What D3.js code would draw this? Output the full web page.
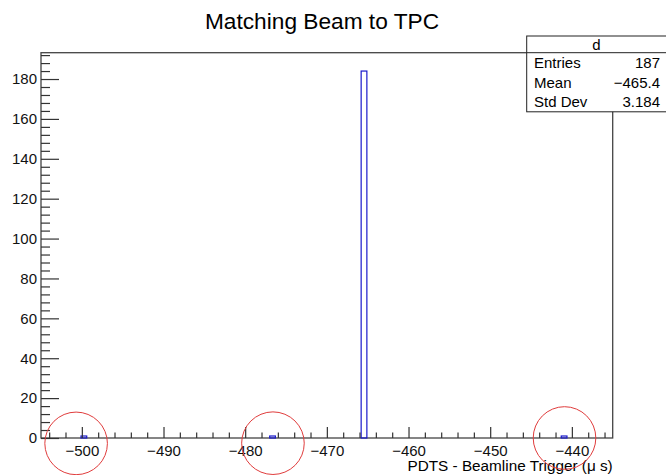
<!DOCTYPE html>
<html>
<head>
<meta charset="utf-8">
<script src="https://cdn.jsdelivr.net/npm/d3@7"></script>
<style>
  body { margin: 0; background: #fff; }
  text { font-family: "Liberation Sans", Arial, Helvetica, sans-serif; }
</style>
</head>
<body>
<div id="chart"></div>
<script>
// histogram "d" : only non-empty bins listed, bin width 0.7 us
const binWidth = 0.7;
const binStarts = [-500.1, -477.0, -465.8, -441.3];
const binCounts = [1, 1, 184, 1];
const xRange = [-505, -435];
const xMajor = [-500, -490, -480, -470, -460, -450, -440];
const yMajor = [0, 20, 40, 60, 80, 100, 120, 140, 160, 180];
const statNames = ["Entries", "Mean", "Std Dev"];
const statValues = ["187", "\u2212465.4", "3.184"];
// red hand-drawn circles (data coords)
const circleX = [-500.7, -476.6, -440.9];
const circleY = [-2.7, -2.6, 0];

let width = 666, height = 475,
    margin = ({top: 52.7, right: 53.3, bottom: 37, left: 41});

let data = binStarts.map((s, i) => ({x0: s, x1: s + binWidth, n: binCounts[i]}));

let x = d3.scaleLinear()
    .domain(xRange)
    .range([margin.left, width - margin.right]);
let y = d3.scaleLinear()
    .domain([0, d3.max(binCounts) * 1.05])
    .range([height - margin.bottom, margin.top]);

const svg = d3.select("#chart").append("svg")
    .attr("width", width).attr("height", height)
    .attr("viewBox", [0, 0, width, height]);

// title
svg.append("text")
    .attr("x", 322).attr("y", 28.5)
    .attr("text-anchor", "middle")
    .attr("font-size", 22.7)
    .text("Matching Beam to TPC");

// frame
svg.append("rect")
    .attr("x", x.range()[0]).attr("y", y.range()[1])
    .attr("width", x.range()[1] - x.range()[0])
    .attr("height", y.range()[0] - y.range()[1])
    .attr("fill", "none").attr("stroke", "#444").attr("stroke-width", 1.3);

// histogram bars (outline)
svg.append("g")
    .selectAll("rect")
    .data(data)
    .join("rect")
      .attr("x", d => x(d.x0))
      .attr("y", d => y(d.n))
      .attr("width", d => x(d.x1) - x(d.x0))
      .attr("height", d => y(0) - y(d.n))
      .attr("fill", "none")
      .attr("stroke", "#1a1acc")
      .attr("stroke-width", 1.2);

// y axis
let yAxis = g => g
    .attr("transform", `translate(${margin.left},0)`)
    .call(d3.axisLeft(y).tickValues(yMajor).tickSize(-18).tickPadding(4))
    .call(g => g.select(".domain").remove())
    .call(g => g.selectAll("text").attr("font-size", 15).attr("fill", "#111"))
    .call(g => g.selectAll("line").attr("stroke", "#333").attr("stroke-width", 1.2));
let yMinor = g => g
    .attr("transform", `translate(${margin.left},0)`)
    .call(d3.axisLeft(y).tickValues(d3.range(0, 193, 4).filter(v => v % 20)).tickSize(-9).tickFormat(""))
    .call(g => g.select(".domain").remove())
    .call(g => g.selectAll("line").attr("stroke", "#333").attr("stroke-width", 1.2));

// x axis
let xAxis = g => g
    .attr("transform", `translate(0,${height - margin.bottom})`)
    .call(d3.axisBottom(x).tickValues(xMajor).tickSize(-11).tickPadding(7)
        .tickFormat(v => String(v).replace("-", "\u2212")))
    .call(g => g.select(".domain").remove())
    .call(g => g.selectAll("text").attr("font-size", 15).attr("fill", "#111"))
    .call(g => g.selectAll("line").attr("stroke", "#333").attr("stroke-width", 1.2));
let xMinor = g => g
    .attr("transform", `translate(0,${height - margin.bottom})`)
    .call(d3.axisBottom(x).tickValues(d3.range(-504, -435, 2).filter(v => v % 10)).tickSize(-5.5).tickFormat(""))
    .call(g => g.select(".domain").remove())
    .call(g => g.selectAll("line").attr("stroke", "#333").attr("stroke-width", 1.2));

svg.append("g").call(yMinor);
svg.append("g").call(yAxis);
svg.append("g").call(xMinor);
svg.append("g").call(xAxis);

svg.append("text")
    .attr("x", x.range()[1]).attr("y", 471)
    .attr("text-anchor", "end")
    .attr("font-size", 15.3)
    .text("PDTS - Beamline Trigger (\u03bc s)");

// stats box
const bx = 526.7, by = 36, bw = 145, rowH = 19.7, headH = 16.7;
const stats = svg.append("g");
stats.append("rect")
    .attr("x", bx).attr("y", by)
    .attr("width", bw).attr("height", headH + rowH * statNames.length)
    .attr("fill", "#fff").attr("stroke", "#222").attr("stroke-width", 1);
stats.append("line")
    .attr("x1", bx).attr("x2", bx + bw)
    .attr("y1", by + headH).attr("y2", by + headH)
    .attr("stroke", "#222");
stats.append("text")
    .attr("x", 596.5).attr("y", by + headH / 2)
    .attr("dy", "0.36em").attr("text-anchor", "middle")
    .attr("font-size", 15).text("d");
statNames.forEach((n, i) => {
  const cy = by + headH + rowH * (i + 0.5);
  stats.append("text").attr("x", 534).attr("y", cy).attr("dy", "0.36em")
      .attr("font-size", 15).text(n);
  stats.append("text").attr("x", 660).attr("y", cy).attr("dy", "0.36em")
      .attr("text-anchor", "end").attr("font-size", 15).text(statValues[i]);
});

// red annotation circles
svg.append("g")
    .selectAll("circle")
    .data(circleX)
    .join("circle")
      .attr("cx", d => x(d))
      .attr("cy", (d, i) => y(circleY[i]))
      .attr("r", 31.3)
      .attr("fill", "none")
      .attr("stroke", "#e03c3c")
      .attr("stroke-width", 1);
</script>
</body>
</html>
